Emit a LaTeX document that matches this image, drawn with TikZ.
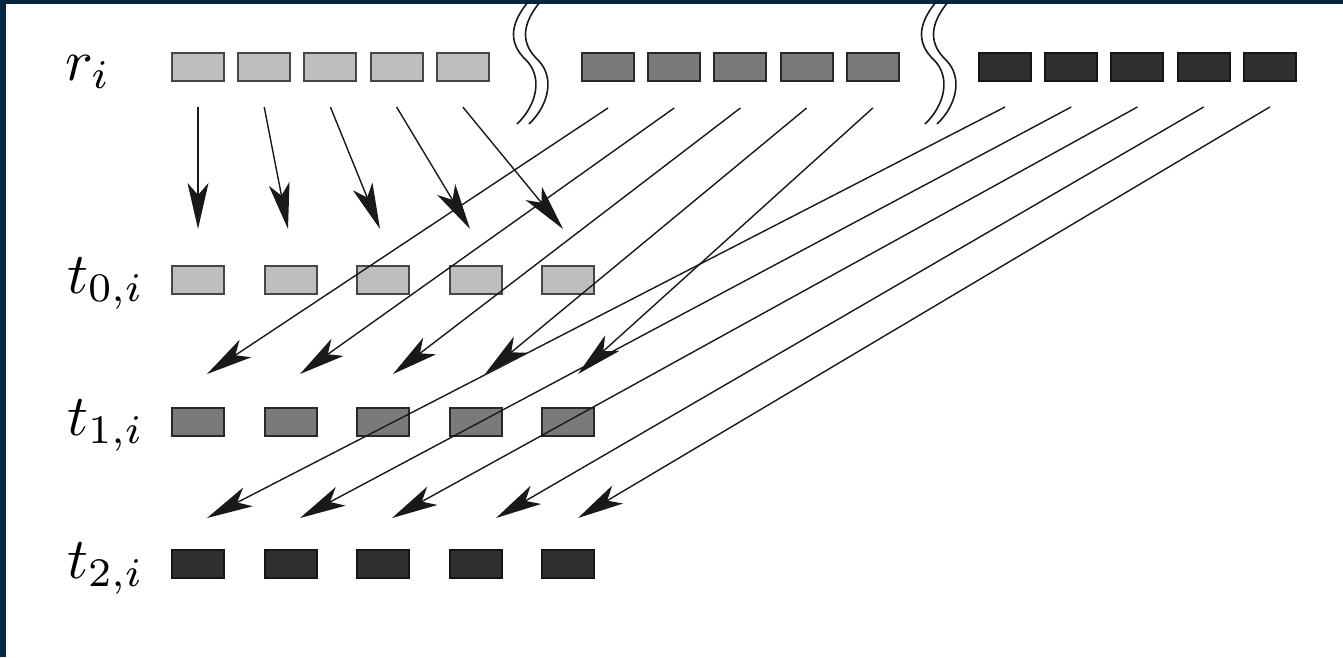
\documentclass[tikz,border=0pt]{standalone}
\usetikzlibrary{arrows.meta,calc}
\definecolor{frame}{RGB}{2,40,70}
\definecolor{lightfill}{RGB}{190,190,190}
\definecolor{lightline}{RGB}{70,70,70}
\definecolor{midfill}{RGB}{122,122,122}
\definecolor{midline}{RGB}{40,40,40}
\definecolor{darkfill}{RGB}{48,48,48}
\definecolor{darkline}{RGB}{22,22,22}
\definecolor{ink}{RGB}{25,25,25}
\begin{document}
\begin{tikzpicture}[x=1pt,y=-1pt,
  cell/.style={line width=2pt, minimum width=52pt, minimum height=28pt, inner sep=0pt, outer sep=0pt},
  lightcell/.style={cell, fill=lightfill, draw=lightline},
  midcell/.style={cell, fill=midfill, draw=midline},
  darkcell/.style={cell, fill=darkfill, draw=darkline},
  arr/.style={line width=1.4pt, draw=ink, -{Stealth[length=46pt,width=21pt,inset=12pt]}},
  cut/.style={line width=1.6pt, draw=ink},
  lbl/.style={anchor=base west, inner sep=0pt, scale=5.8, transform shape}]
\useasboundingbox (0,0) rectangle (1343,657);
\fill[white] (0,0) rectangle (1343,657);
% frame edges
\fill[frame] (0,0) rectangle (1343,4);
\fill[frame] (0,0) rectangle (6,657);

% row labels
\node[lbl] (lr)  at (64,80)  {$r_i$};
\node[lbl] (lt0) at (66,293) {$t_{0,i}$};
\node[lbl] (lt1) at (66,435) {$t_{1,i}$};
\node[lbl] (lt2) at (66,578) {$t_{2,i}$};

% the r row: three groups of five cells
\foreach \k/\x in {1/198,2/264.2,3/330.4,4/396.6,5/462.8}
  \node[lightcell] (ra\k) at (\x,67) {};
\foreach \k/\x in {1/608,2/674.2,3/740.4,4/806.6,5/872.8}
  \node[midcell] (rb\k) at (\x,67) {};
\foreach \k/\x in {1/1005,2/1071.2,3/1137.4,4/1203.6,5/1269.8}
  \node[darkcell] (rc\k) at (\x,67) {};

% the t rows
\foreach \k/\x in {1/198,2/290.5,3/383,4/475.5,5/568}{
  \node[lightcell] (ta\k) at (\x,280) {};
  \node[midcell]   (tb\k) at (\x,422) {};
  \node[darkcell]  (tc\k) at (\x,564) {};
}

% break marks between the groups
\foreach \o in {0,408}{
  \draw[cut] (528+\o,2) .. controls (509+\o,25) and (509+\o,44) .. (526+\o,60)
             .. controls (543+\o,77) and (537+\o,105) .. (517+\o,124);
  \draw[cut] (540+\o,2) .. controls (521+\o,25) and (521+\o,44) .. (538+\o,60)
             .. controls (555+\o,77) and (549+\o,105) .. (529+\o,124);
}

% first group feeds t_0
\foreach \k/\dx in {1/0,2/-2.5,3/-3,4/-5.5,5/-5}
  \draw[arr] ($(ra\k.south)+(0,26)$) -- ($(ta\k.north)+(\dx,-37)$);
% second group feeds t_1
\foreach \k/\dx in {1/9,2/9.5,3/10,4/9.5,5/10}
  \draw[arr] ($(rb\k.south)+(0,27)$) -- ($(tb\k.north)+(\dx,-34)$);
% third group feeds t_2
\foreach \k/\dx in {1/9,2/9.5,3/9,4/20.5,5/10}
  \draw[arr] ($(rc\k.south)+(0,26)$) -- ($(tc\k.north)+(\dx,-32)$);
\end{tikzpicture}
\end{document}
